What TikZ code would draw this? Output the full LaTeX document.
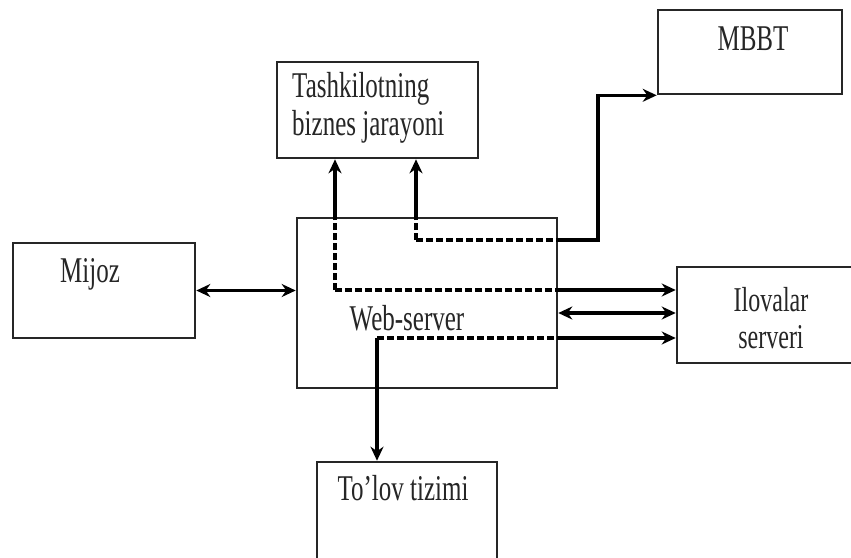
\documentclass[tikz,border=0pt]{standalone}
\usepackage{fontspec}
\setmainfont{Liberation Serif}
\usetikzlibrary{arrows.meta}
\begin{document}
\begin{tikzpicture}[x=1pt,y=-1pt,
  box/.style={draw=black!85,line width=2.6pt,rectangle,inner sep=0pt},
  lbl/.style={font=\fontsize{25}{26}\selectfont,yscale=1.45,inner sep=0pt,text=black!85},
  conn/.style={line width=3.4pt,black},
  arr/.style={conn,-{Stealth[length=14pt,width=13pt]}},
  darr/.style={conn,{Stealth[length=14pt,width=13pt]}-{Stealth[length=14pt,width=13pt]}},
  dsh/.style={conn,dash pattern=on 7pt off 3pt}]
\useasboundingbox (0,0) rectangle (851,557);
\fill[white] (0,0) rectangle (851,557);
% boxes
\node[box,minimum width=182pt,minimum height=95pt] (mij) at (104,290.5) {};
\node[box,minimum width=260pt,minimum height=170pt] (web) at (427,303) {};
\node[box,minimum width=201pt,minimum height=96pt] (tash) at (377.5,110) {};
\node[box,minimum width=184pt,minimum height=84pt] (mbbt) at (750,52) {};
\node[box,minimum width=190pt,minimum height=96pt] (ilov) at (772,315) {};
\node[box,minimum width=180pt,minimum height=110pt] (tol) at (407,517) {};
% labels
\node[lbl,anchor=base] (tmij) at (90,282) {Mijoz};
\node[lbl,anchor=west,align=left] (ttash) at (292,108) {Tashkilotning\\biznes jarayoni};
\node[lbl,anchor=base] (tmbbt) at (753,50) {MBBT};
\node[lbl,anchor=base] (tweb) at (407,330) {Web-server};
\node[lbl,align=center,font=\fontsize{24}{25}\selectfont] (tilov) at (771,318) {Ilovalar\\serveri};
\node[lbl,anchor=base] (ttol) at (403,500) {To'lov tizimi};
% junction points
\coordinate (j1) at (335,290);
\coordinate (j2) at (416,240);
\coordinate (j3) at (377,338);
\coordinate (k) at (598,240);
% Mijoz <-> Web
\draw[darr] (mij.east) -- (mij.east -| web.west);
% j1 branch
\draw[dsh] (j1) -- (j1 |- web.north);
\draw[arr] (j1 |- web.north) -- (j1 |- tash.south);
\draw[dsh] (j1) -- (j1 -| web.east);
\draw[arr] (j1 -| web.east) -- (j1 -| ilov.west);
% j2 branch
\draw[dsh] (j2) -- (j2 |- web.north);
\draw[arr] (j2 |- web.north) -- (j2 |- tash.south);
\draw[dsh] (j2) -- (j2 -| web.east);
\draw[arr] (j2 -| web.east) -- (k) -- (k |- mbbt.south) -- (mbbt.south west);
% double arrow web <-> ilovalar
\draw[darr] (web.east |- 0,313) -- (ilov.west |- 0,313);
% j3 branch
\draw[dsh] (j3) -- (j3 -| web.east);
\draw[arr] (j3 -| web.east) -- (j3 -| ilov.west);
\draw[arr] (j3) -- (j3 |- tol.north);
\end{tikzpicture}
\end{document}
